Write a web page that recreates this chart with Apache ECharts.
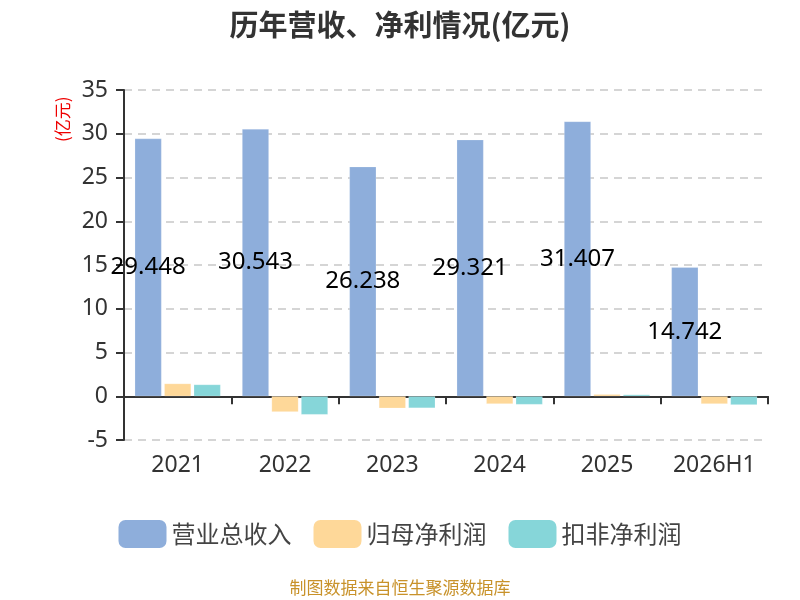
<!DOCTYPE html>
<html>
<head>
<meta charset="utf-8">
<script src="https://cdn.jsdelivr.net/npm/echarts@6/dist/echarts.min.js"></script>
<style>
  html, body { margin: 0; padding: 0; background: #fff; }
  #chart { width: 800px; height: 600px; }
</style>
</head>
<body>
<div id="chart"></div>
<script>
const years = ['2021', '2022', '2023', '2024', '2025', '2026H1'];
const revenue = [29.448, 30.543, 26.238, 29.321, 31.407, 14.742];
const netProfit = [1.45, -1.79, -1.37, -0.88, 0.23, -0.88];
const deductedProfit = [1.34, -2.1, -1.35, -0.95, 0.19, -0.99];
const seriesNames = ['营业总收入', '归母净利润', '扣非净利润'];
const COLORS = ['#8eaedb', '#fed899', '#86d6d9'];

const chart = echarts.init(document.getElementById('chart'));

const barStyle = (color) => ({
  color: color,
  borderColor: 'rgba(255,255,255,0.4)',
  borderWidth: 0.5
});

const option = {
  backgroundColor: '#fff',
  animation: false,
  title: {
    text: '历年营收、净利情况(亿元)',
    left: 'center',
    top: 5,
    textStyle: { fontSize: 29, fontWeight: 'bold', color: '#333', fontFamily: 'Noto Sans CJK SC' }
  },
  graphic: [{
    type: 'text',
    left: 'center',
    top: 579,
    style: { text: '制图数据来自恒生聚源数据库', fill: '#c8922a', fontSize: 17, fontFamily: 'Noto Sans CJK SC' }
  }, {
    type: 'text',
    x: 54,
    y: 142,
    rotation: Math.PI / 2,
    style: { text: '(亿元)', fill: '#e00', fontSize: 17, fontFamily: 'Noto Sans CJK SC' }
  }],
  legend: {
    bottom: 47,
    left: 'center',
    itemWidth: 48,
    itemHeight: 28,
    itemGap: 22,
    itemStyle: { borderRadius: 6, borderWidth: 0 },
    textStyle: { fontSize: 24, color: '#444', fontFamily: 'Noto Sans CJK SC' },
    data: seriesNames
  },
  grid: { left: 124, right: 32, top: 90, bottom: 160 },
  xAxis: [{
    type: 'category',
    data: years,
    axisLine: { onZero: true, lineStyle: { color: '#333', width: 2 } },
    axisTick: { show: true, length: 8, lineStyle: { color: '#333', width: 2 } },
    axisLabel: { show: false }
  }, {
    type: 'category',
    data: years,
    position: 'bottom',
    axisLine: { show: false },
    axisTick: { show: false },
    axisLabel: { interval: 0, fontSize: 23, color: '#333', margin: 14, fontFamily: 'Noto Sans' }
  }],
  yAxis: {
    type: 'value',
    min: -5,
    max: 35,
    interval: 5,
    axisLine: { show: true, lineStyle: { color: '#333', width: 2 } },
    axisTick: { show: true, length: 8, lineStyle: { color: '#333', width: 2 } },
    axisLabel: { fontSize: 23, color: '#333', margin: 16, fontFamily: 'Noto Sans' },
    splitLine: { lineStyle: { color: '#c8c8c8', type: [8, 6], width: 1.5 } }
  },
  series: [{
    name: seriesNames[0],
    type: 'bar',
    data: revenue,
    barGap: '10%',
    barCategoryGap: '20%',
    itemStyle: barStyle(COLORS[0]),
    label: {
      show: true,
      position: 'inside',
      color: '#000',
      fontSize: 24,
      fontFamily: 'Noto Sans',
      formatter: (p) => p.value.toFixed(3)
    }
  }, {
    name: seriesNames[1],
    type: 'bar',
    data: netProfit,
    itemStyle: barStyle(COLORS[1])
  }, {
    name: seriesNames[2],
    type: 'bar',
    data: deductedProfit,
    itemStyle: barStyle(COLORS[2])
  }]
};

chart.setOption(option);
</script>
</body>
</html>
